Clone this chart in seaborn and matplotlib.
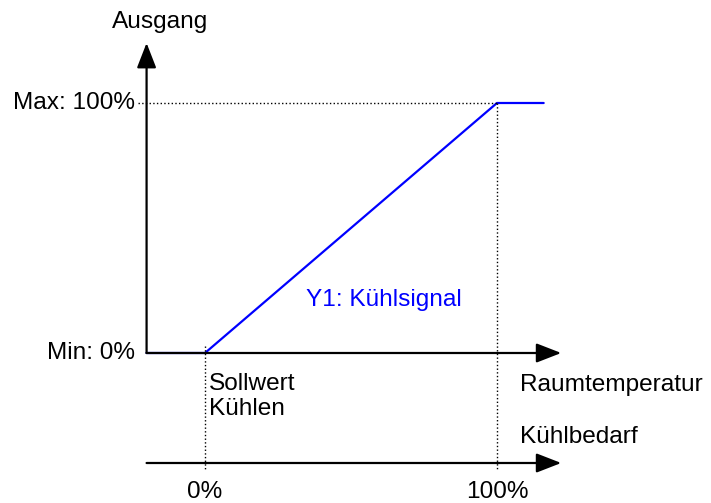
import seaborn as sns
import pandas as pd
import matplotlib.pyplot as plt

sns.set_theme(style="white")
plt.rcParams['font.family'] = ['Liberation Sans', 'DejaVu Sans']
plt.rcParams['text.color'] = 'black'

# Kühlbedarf (%) -> Ausgang (%)
demand = [-20, 0, 100, 116]
output = [0, 0, 100, 100]
x_ticks = [0, 100]
x_tick_labels = ["0%", "100%"]
y_levels = [0, 100]
y_level_labels = ["Min: 0%", "Max: 100%"]

df = pd.DataFrame({"Kühlbedarf": demand, "Ausgang": output})

fig = plt.figure(figsize=(7.11, 5.03), dpi=100)
ax = fig.add_axes([0, 0, 1, 1])
ax.set_xlim(-70.2, 173.3)
ax.set_ylim(-60, 141.2)
ax.axis("off")

fs = 17.6

sns.lineplot(data=df, x="Kühlbedarf", y="Ausgang", color="#0000ff", lw=1.6, ax=ax)

arrow = dict(arrowstyle="-|>,head_length=0.9,head_width=0.35", color="black", lw=1.6,
             shrinkA=0, shrinkB=0, mutation_scale=17)
# y axis
ax.annotate("", xy=(-20, 124), xytext=(-20, 0), arrowprops=arrow)
# x axis (Raumtemperatur)
ax.annotate("", xy=(122, 0), xytext=(-20, 0), arrowprops=arrow)
# lower axis (Kühlbedarf)
ax.annotate("", xy=(122, -44), xytext=(-20, -44), arrowprops=arrow)

# dotted guides
ax.plot([-23, 100], [100, 100], ls=":", color="black", lw=1)
ax.plot([0, 0], [3, -47], ls=":", color="black", lw=1)
ax.plot([100, 100], [100, -47], ls=":", color="black", lw=1)

for y, lab in zip(y_levels, y_level_labels):
    ax.text(-24, y, lab, ha="right", va="center", fontsize=fs)
for x, lab in zip(x_ticks, x_tick_labels):
    ax.text(x, -55.6, lab, ha="center", va="center", fontsize=fs)

ax.text(-15.4, 132.4, "Ausgang", ha="center", va="center", fontsize=fs)
ax.text(1.4, -17.5, "Sollwert\nKühlen", ha="left", va="center", fontsize=fs, linespacing=1.15)
ax.text(108.0, -12.8, "Raumtemperatur", ha="left", va="center", fontsize=fs)
ax.text(108.0, -33.6, "Kühlbedarf", ha="left", va="center", fontsize=fs)
ax.text(34.6, 21.2, "Y1: Kühlsignal", ha="left", va="center", fontsize=fs, color="#0000ff")

fig.savefig("out.png", dpi=100)
